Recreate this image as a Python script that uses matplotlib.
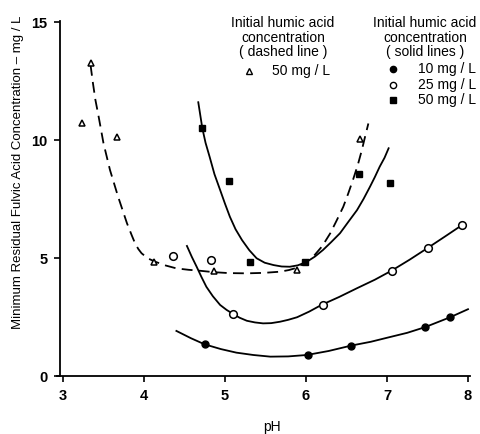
import matplotlib.pyplot as plt

plt.rcParams['font.family'] = ['Liberation Sans', 'DejaVu Sans']

# measured points, 10 mg/L humic acid (filled circles)
ph_10 = [4.75, 6.02, 6.56, 7.47, 7.78]
fa_10 = [1.34, 0.89, 1.29, 2.07, 2.49]

# 25 mg/L (open circles)
ph_25 = [4.36, 4.83, 5.10, 6.21, 7.06, 7.50, 7.93]
fa_25 = [5.10, 4.90, 2.63, 3.00, 4.47, 5.42, 6.40]

# 50 mg/L (filled squares)
ph_50 = [4.72, 5.05, 5.31, 5.99, 6.65, 7.04]
fa_50 = [10.50, 8.28, 4.82, 4.85, 8.56, 8.17]

# 50 mg/L, dashed series (triangles)
ph_tri = [3.23, 3.34, 3.67, 4.12, 4.86, 5.89, 6.67]
fa_tri = [10.74, 13.25, 10.14, 4.82, 4.47, 4.50, 10.03]

# fitted curves
curve_10_x = [4.40, 4.58, 4.75, 4.95, 5.14, 5.35, 5.56, 5.78, 6.01, 6.28, 6.56, 6.80, 7.00, 7.25,
              7.47, 7.78, 8.00]
curve_10_y = [1.91, 1.60, 1.34, 1.14, 0.99, 0.89, 0.82, 0.83, 0.89, 1.06, 1.29, 1.45, 1.62, 1.83,
              2.07, 2.49, 2.83]

curve_25_x = [4.53, 4.59, 4.65, 4.71, 4.77, 4.85, 4.94, 5.02, 5.10, 5.18, 5.27, 5.37, 5.47, 5.57,
              5.68, 5.78, 5.89, 6.04, 6.19, 6.41, 6.63, 6.85, 7.06, 7.28, 7.50, 7.72, 7.95]
curve_25_y = [5.51, 5.05, 4.63, 4.19, 3.78, 3.38, 3.01, 2.80, 2.63, 2.47, 2.34, 2.27, 2.23, 2.24,
              2.30, 2.38, 2.49, 2.73, 3.01, 3.35, 3.72, 4.08, 4.47, 4.93, 5.42, 5.92, 6.45]

curve_50_x = [4.67, 4.72, 4.76, 4.81, 4.87, 4.94, 5.00, 5.06, 5.13, 5.21, 5.30, 5.39, 5.49, 5.60,
              5.70, 5.80, 5.90, 6.01, 6.11, 6.21, 6.31, 6.42, 6.52, 6.63, 6.71, 6.79, 6.85, 6.91,
              6.97, 7.02]
curve_50_y = [11.6, 10.5, 9.88, 9.29, 8.55, 7.88, 7.30, 6.75, 6.22, 5.76, 5.33, 4.99, 4.80, 4.70,
              4.64, 4.63, 4.69, 4.84, 5.06, 5.34, 5.67, 6.05, 6.52, 7.03, 7.50, 8.02, 8.43, 8.87,
              9.25, 9.65]

curve_tri_x = [3.34, 3.37, 3.40, 3.44, 3.50, 3.58, 3.68, 3.79, 3.85, 3.89, 3.93, 3.97, 4.05, 4.14,
               4.27, 4.40, 4.55, 4.69, 4.86, 5.05, 5.27, 5.48, 5.68, 5.79, 5.88, 5.98, 6.09, 6.20,
               6.30, 6.38, 6.46, 6.52, 6.58, 6.64, 6.69, 6.73, 6.77]
curve_tri_y = [13.18, 12.4, 11.7, 10.99, 9.86, 8.73, 7.60, 6.47, 5.95, 5.62, 5.38, 5.20, 4.98,
               4.84, 4.68, 4.56, 4.50, 4.46, 4.40, 4.36, 4.35, 4.37, 4.42, 4.49, 4.58, 4.78, 5.06,
               5.50, 6.05, 6.60, 7.17, 7.72, 8.31, 8.95, 9.58, 10.15, 10.7]

W, H = 480, 434
fig = plt.figure(figsize=(W / 100, H / 100), dpi=100)

# axes placed so that pH 3 -> x=63px, pH 8 -> 468px, 0 -> y=376px, 15 -> 22px
x0, x1 = 2.92, 8.02
y0, y1 = 0, 15.05
px_per_ph = 81.0
px_per_unit = 23.6
left = (63 - (3 - x0) * px_per_ph) / W
width = (x1 - x0) * px_per_ph / W
bottom = 1 - 376 / H
height = (y1 - y0) * px_per_unit / H
ax = fig.add_axes([left, bottom, width, height])

ax.plot(curve_10_x, curve_10_y, color='black', lw=1.3)
ax.plot(curve_25_x, curve_25_y, color='black', lw=1.3)
ax.plot(curve_50_x, curve_50_y, color='black', lw=1.3)
ax.plot(curve_tri_x, curve_tri_y, color='black', lw=1.3, linestyle=(0, (6, 3.5)))

ax.plot(ph_10, fa_10, 'o', color='black', markersize=5, zorder=3)
ax.plot(ph_25, fa_25, 'o', markerfacecolor='white', markeredgecolor='black',
        markersize=5.5, markeredgewidth=1.1, zorder=3)
ax.plot(ph_50, fa_50, 's', color='black', markersize=4.6, zorder=3)
ax.plot(ph_tri, fa_tri, '^', markerfacecolor='white', markeredgecolor='black',
        markersize=5, markeredgewidth=1.1, zorder=3)

ax.set_xlim(x0, x1)
ax.set_ylim(y0, y1)
ax.spines['top'].set_visible(False)
ax.spines['right'].set_visible(False)
ax.spines['left'].set_position(('data', 2.96))
ax.spines['left'].set_linewidth(1.3)
ax.spines['bottom'].set_linewidth(1.3)
ax.set_xticks([3, 4, 5, 6, 7, 8])
ax.set_yticks([0, 5, 10, 15])
ax.tick_params(direction='out', length=4.5, width=1.2, labelsize=10.5, pad=4.5)
for lab in ax.get_xticklabels() + ax.get_yticklabels():
    lab.set_fontweight('bold')


def fx(px):
    return px / W


def fy(py):
    return 1 - py / H


fig.text(fx(272), fy(427), 'pH', ha='center', va='center', fontsize=10)
fig.text(fx(18), fy(172), 'Minimum Residual Fulvic Acid Concentration \u2013 mg / L',
         rotation=90, ha='center', va='center', fontsize=9.5)

# legend for the dashed line
for i, line in enumerate(['Initial humic acid', 'concentration', '( dashed line )']):
    fig.text(fx(283), fy(23 + i * 14.5), line, ha='center', va='center', fontsize=10)
fig.lines.append(plt.Line2D([fx(249)], [fy(71)], marker='^', markersize=4.5,
                            markerfacecolor='white', markeredgecolor='black',
                            transform=fig.transFigure))
fig.text(fx(272), fy(71), '50 mg / L', ha='left', va='center', fontsize=10)

# legend for the solid lines
for i, line in enumerate(['Initial humic acid', 'concentration', '( solid lines )']):
    fig.text(fx(425), fy(23 + i * 14.5), line, ha='center', va='center', fontsize=10)
legend_labels = ['10 mg / L', '25 mg / L', '50 mg / L']
legend_marks = [('o', 'black'), ('o', 'white'), ('s', 'black')]
for i, (lab, (m, fc)) in enumerate(zip(legend_labels, legend_marks)):
    yy = 69 + i * 15.5
    fig.lines.append(plt.Line2D([fx(393)], [fy(yy)], marker=m, markersize=4.5,
                                markerfacecolor=fc, markeredgecolor='black',
                                transform=fig.transFigure))
    fig.text(fx(418), fy(yy), lab, ha='left', va='center', fontsize=10)

fig.savefig('out.png', dpi=100)
